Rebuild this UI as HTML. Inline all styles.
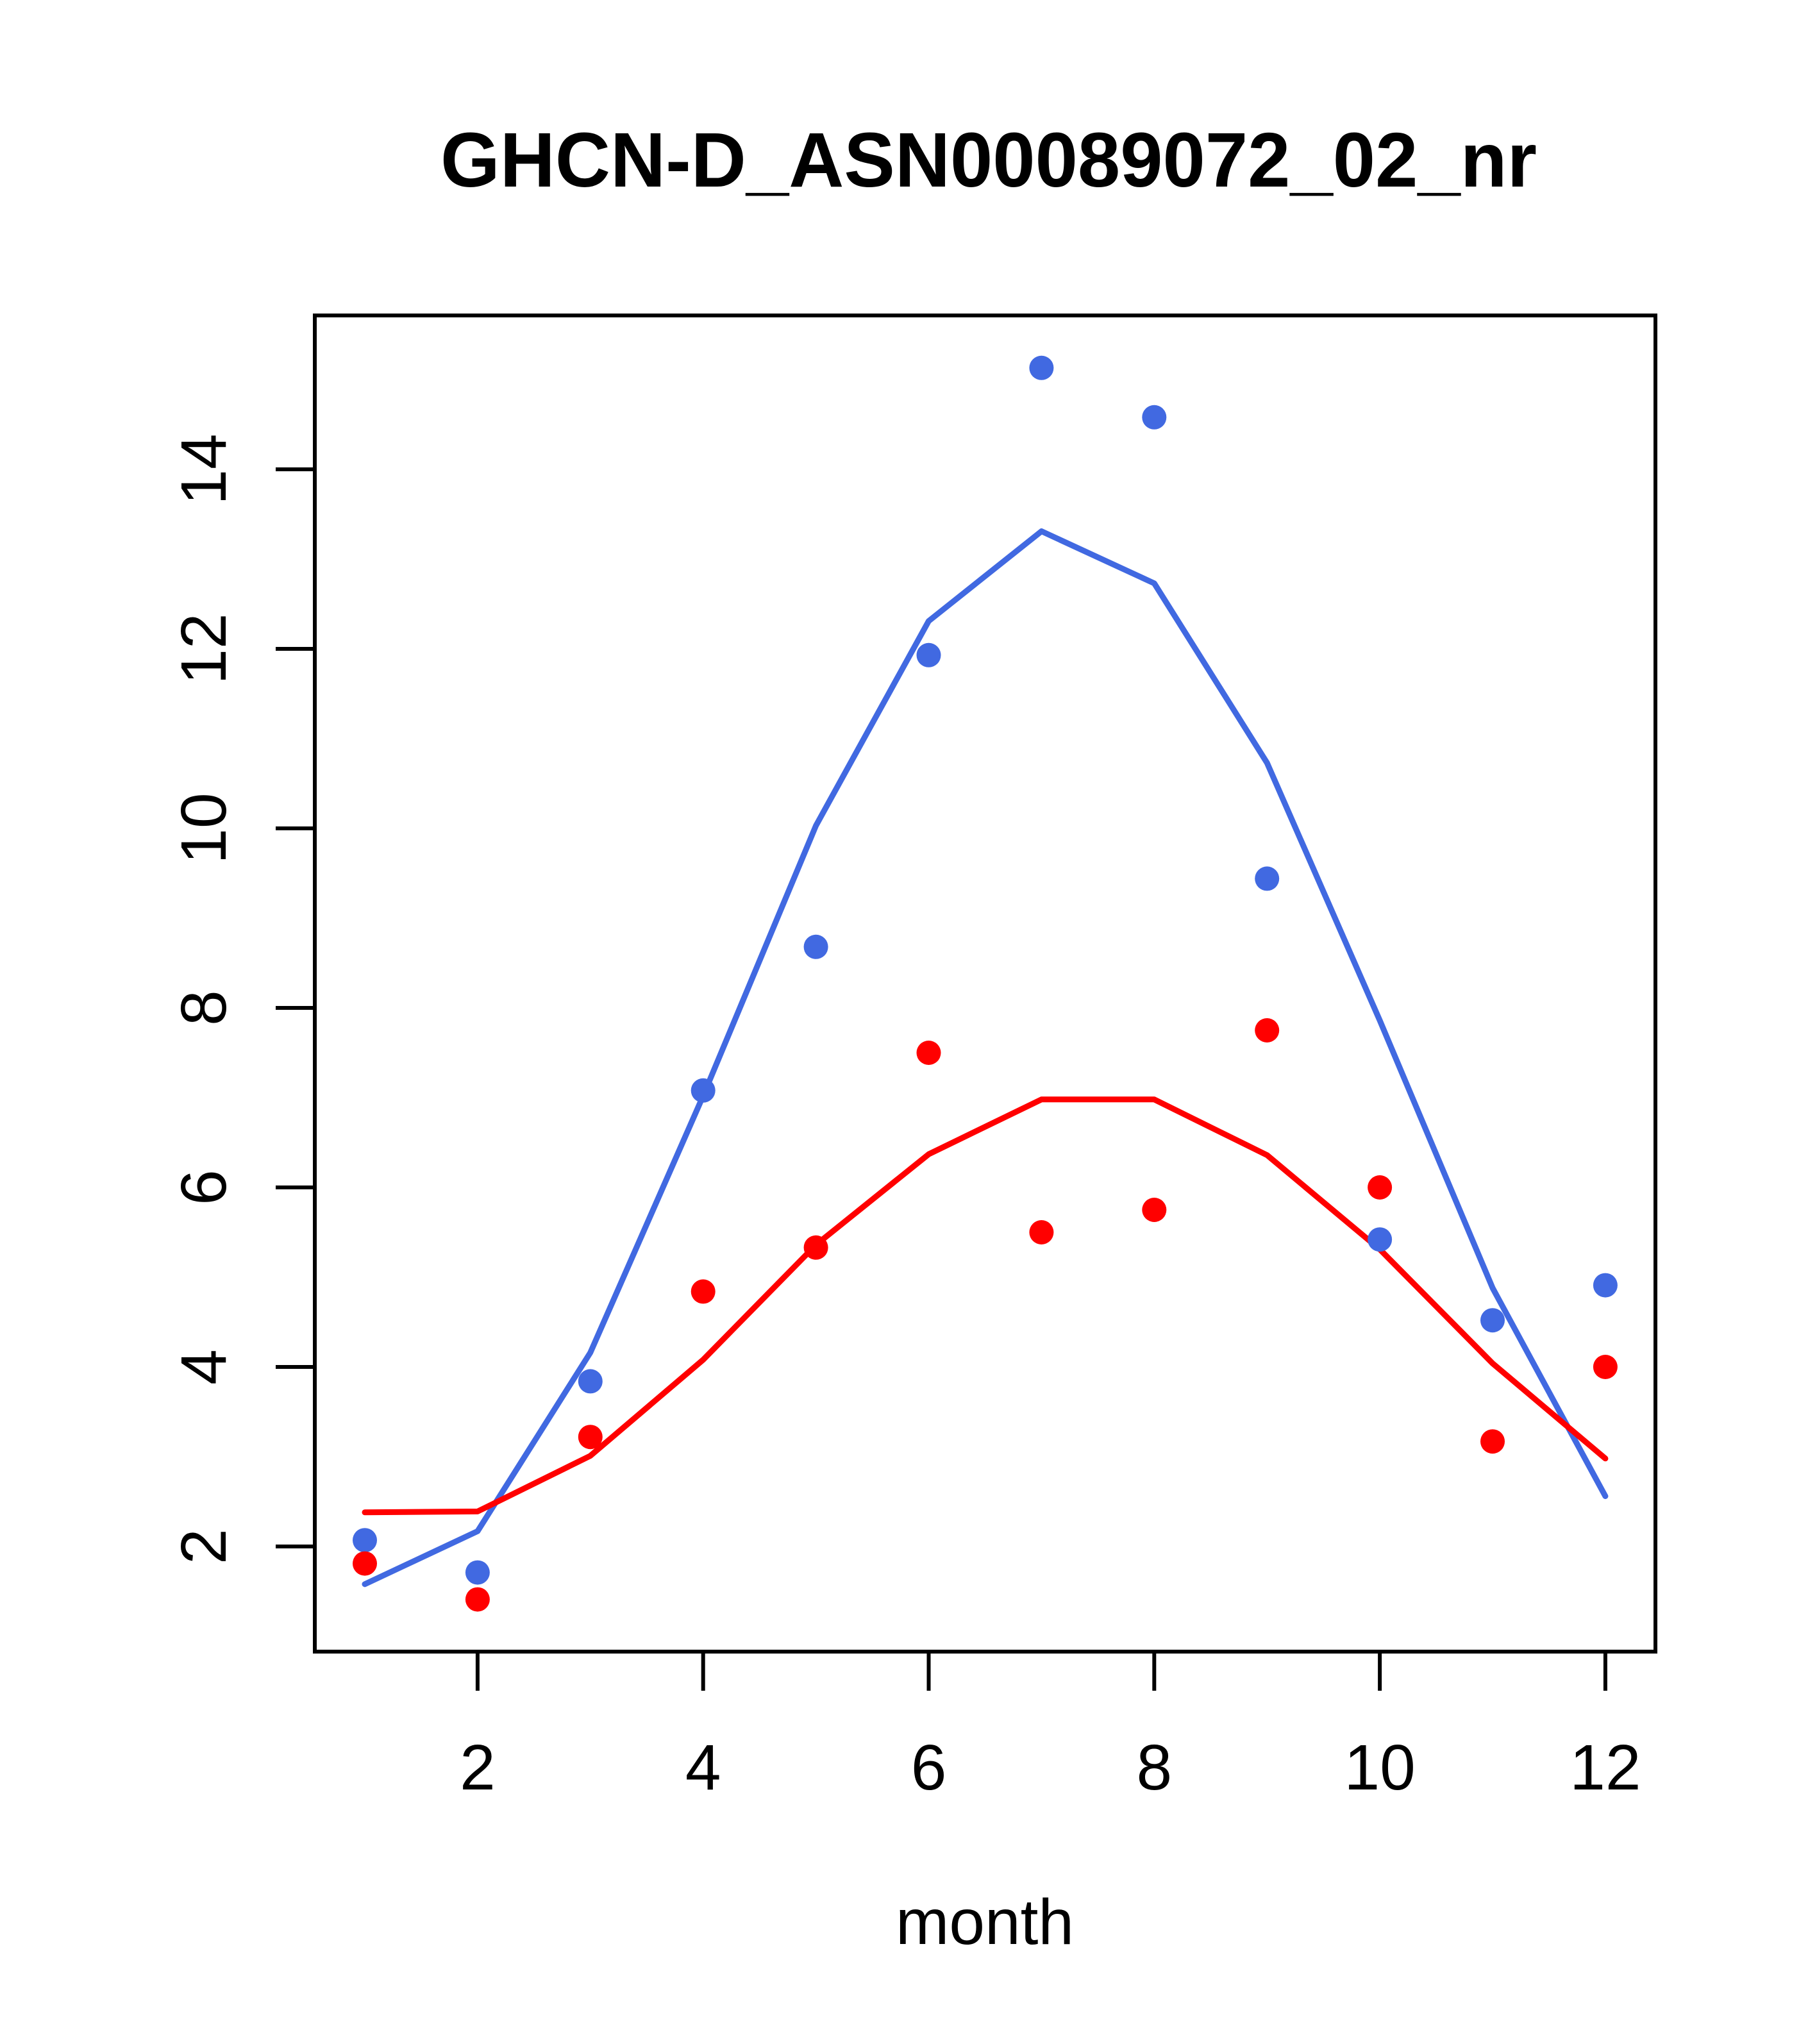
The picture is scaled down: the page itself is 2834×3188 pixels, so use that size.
<!DOCTYPE html>
<html><head><meta charset="utf-8"><style>html,body{margin:0;padding:0;background:#fff}svg{display:block}</style></head>
<body>
<svg id="chart" width="2834" height="3188" viewBox="0 0 2834 3188" xmlns="http://www.w3.org/2000/svg" font-family="Liberation Sans, sans-serif">
<rect width="2834" height="3188" fill="#fff"/>
<text x="1542" y="291" font-size="121" font-weight="bold" text-anchor="middle" textLength="1710" lengthAdjust="spacingAndGlyphs">GHCN-D_ASN00089072_02_nr</text>
<g id="plot"></g>
<text x="1536" y="3032" font-size="100" text-anchor="middle">month</text>
</svg>
<script>
const months=[1,2,3,4,5,6,7,8,9,10,11,12];
const bluePoints=[2.07,1.71,3.84,7.08,8.68,11.93,15.13,14.58,9.44,5.42,4.52,4.91];
const redPoints=[1.81,1.41,3.22,4.84,5.33,7.50,5.50,5.75,7.75,6.00,3.17,4.00];
const blueLine=[1.58,2.17,4.16,7.02,10.03,12.31,13.31,12.73,10.73,7.86,4.88,2.56];
const redLine=[2.38,2.39,3.01,4.08,5.36,6.37,6.98,6.98,6.36,5.31,4.04,2.98];
const xTicks=[2,4,6,8,10,12];
const yTicks=[2,4,6,8,10,12,14];

const NS="http://www.w3.org/2000/svg";
const L=491,R=2582,T=492,B=2576;
const xs=v=>569+(v-1)*175.9;
const ys=v=>2412-(v-2)*140;
const g=document.getElementById('plot');
function mk(tag,attrs){const e=document.createElementNS(NS,tag);for(const k in attrs)e.setAttribute(k,attrs[k]);g.appendChild(e);return e;}

const frame=mk('rect',{x:L,y:T,width:R-L,height:B-T,fill:'none',stroke:'#000','stroke-width':6});



xTicks.forEach(t=>{
  const ln=mk('line',{x1:xs(t),x2:xs(t),y1:B,y2:B+61,stroke:'#000','stroke-width':6});
  
  
  const tx=mk('text',{x:xs(t),y:2791,'font-size':100,'text-anchor':'middle'});
  tx.textContent=t;
  
  
});
yTicks.forEach(t=>{
  const ln=mk('line',{x1:L-61,x2:L,y1:ys(t),y2:ys(t),stroke:'#000','stroke-width':6});
  
  
  const tx=mk('text',{x:0,y:0,'font-size':100,'text-anchor':'middle',transform:`translate(352,${ys(t)}) rotate(-90)`});
  tx.textContent=t;
  
  
});

function line(vals,color,name){
  const p=mk('polyline',{points:months.map((m,i)=>xs(m)+','+ys(vals[i])).join(' '),fill:'none',stroke:color,'stroke-width':9,'stroke-linejoin':'round','stroke-linecap':'round'});
  
  
}
function pts(vals,color,name){
  months.forEach((m,i)=>{
    const c=mk('circle',{cx:xs(m),cy:ys(vals[i]),r:19,fill:color});
    
    
  });
}
line(blueLine,'#4169E1','blue-fit-line');
line(redLine,'#FF0000','red-fit-line');
pts(bluePoints,'#4169E1','blue-point');
pts(redPoints,'#FF0000','red-point');
</script>
</body></html>
